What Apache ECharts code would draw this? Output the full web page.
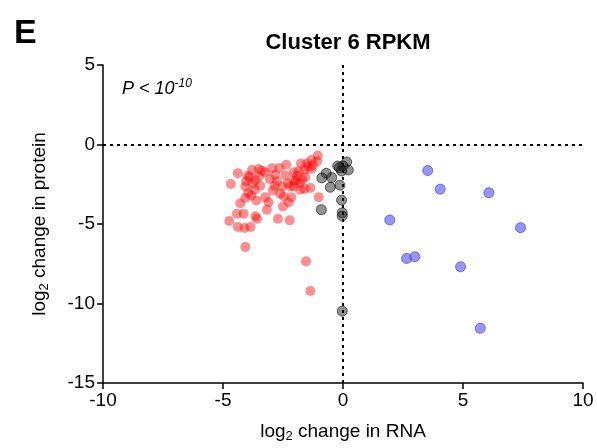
<!DOCTYPE html>
<html>
<head>
<meta charset="utf-8">
<script src="https://cdn.jsdelivr.net/npm/echarts@6/dist/echarts.min.js"></script>
<style>html,body{margin:0;padding:0;background:#fff}#c{width:597px;height:448px}</style>
</head>
<body>
<div id="c"></div>
<script>
// log2 change in RNA (x) / protein (y)
var redRNA = [-1.05,-1.08,-1.32,-1.50,-1.75,-1.32,-1.60,-1.85,-1.92,-1.57,-1.96,-1.80,-1.60,-1.36,-1.78,-2.05,-2.20,-1.01,-2.05,-2.36,-2.65,-2.96,-2.82,-3.05,-2.75,-2.54,-2.92,-2.61,-2.47,-2.15,-2.26,-2.50,-3.24,-3.10,-3.17,-3.38,-3.51,-3.79,-3.96,-3.65,-4.04,-4.07,-3.68,-3.82,-3.61,-4.07,-4.28,-4.38,-4.67,-4.42,-4.14,-3.65,-3.58,-4.74,-4.38,-4.10,-3.85,-2.71,-2.22,-4.07,-1.54,-1.36,-2.05,-3.90,-3.75,-3.50,-3.45,-2.30,-1.70,-2.85,-3.25,-1.45,-3.95,-2.40,-1.25];
var redProtein = [-0.69,-1.06,-0.98,-1.19,-1.19,-1.54,-1.60,-1.69,-1.96,-2.06,-2.27,-2.44,-2.79,-2.73,-2.85,-2.64,-2.64,-3.31,-2.27,-1.27,-1.48,-1.50,-1.90,-2.17,-2.31,-2.64,-2.90,-3.10,-3.27,-3.31,-3.63,-3.90,-3.31,-3.63,-4.10,-1.65,-1.54,-1.60,-1.96,-2.23,-2.31,-2.64,-2.85,-3.21,-3.52,-3.36,-3.69,-1.81,-2.48,-4.35,-4.35,-4.52,-4.67,-4.81,-5.19,-5.25,-5.19,-4.67,-4.77,-6.44,-7.35,-9.21,-1.75,-2.05,-2.45,-2.00,-2.60,-2.45,-2.20,-2.60,-1.75,-1.40,-3.05,-1.95,-1.30];
var grayRNA = [0.15,0.00,-0.15,0.22,-0.22,-0.06,-0.70,-0.88,-0.47,-0.53,-0.13,-0.06,-0.90,-0.03,-0.03,-0.03];
var grayProtein = [-1.10,-1.35,-1.46,-1.60,-1.35,-1.67,-1.81,-2.10,-2.08,-2.69,-2.56,-3.50,-4.10,-4.30,-4.50,-10.48];
var blueRNA = [3.53,4.05,6.08,1.95,7.40,2.65,2.99,4.90,5.72];
var blueProtein = [-1.64,-2.81,-3.04,-4.75,-5.23,-7.17,-7.06,-7.69,-11.56];
var xTicks = {min:-10, max:10, interval:5};
var yTicks = {min:-15, max:5, interval:5};

function pairs(a,b){return a.map(function(v,i){return [v,b[i]];});}
var font = 'Liberation Sans, Arial, sans-serif';
var chart = echarts.init(document.getElementById('c'), null, {renderer:'canvas'});
var rich = {
  a:{fontSize:19, fontFamily:font, color:'#000'},
  s:{fontSize:13, fontFamily:font, color:'#000', padding:[9,0,0,0]}
};
chart.setOption({
  animation:false,
  backgroundColor:'#fff',
  grid:{left:103,right:14,top:65,bottom:63},
  title:{text:'Cluster 6 RPKM', left:343, textAlign:'center', top:27,
    textStyle:{fontSize:22, fontWeight:'bold', fontFamily:font, color:'#000'}},
  graphic:[
    {type:'text', left:14, top:17, style:{text:'E', font:'bold 34px '+font, fill:'#000'}},
    {type:'text', left:122, top:78, style:{
      text:'{p|P < 10}{e|-10}', rich:{
        p:{fontSize:18, fontStyle:'italic', fontFamily:font, fill:'#000', color:'#000'},
        e:{fontSize:12, fontStyle:'italic', fontFamily:font, fill:'#000', color:'#000', padding:[0,0,10,0]}
      }}}
  ],
  xAxis:{type:'value', min:xTicks.min, max:xTicks.max, interval:xTicks.interval,
    name:'{a|log}{s|2}{a| change in RNA}', nameLocation:'middle', nameGap:38,
    nameTextStyle:{rich:rich},
    axisLine:{onZero:false, lineStyle:{color:'#000', width:1.5}},
    axisTick:{length:6, lineStyle:{color:'#000', width:1.5}},
    axisLabel:{fontSize:19, fontFamily:font, color:'#000', margin:8},
    splitLine:{show:false}},
  yAxis:{type:'value', min:yTicks.min, max:yTicks.max, interval:yTicks.interval,
    name:'{a|log}{s|2}{a| change in protein}', nameLocation:'middle', nameGap:52,
    nameTextStyle:{rich:rich},
    axisLine:{show:true, onZero:false, lineStyle:{color:'#000', width:1.5}},
    axisTick:{show:true, length:6, lineStyle:{color:'#000', width:1.5}},
    axisLabel:{fontSize:19, fontFamily:font, color:'#000', margin:8},
    splitLine:{show:false}},
  series:[
    {type:'scatter', data:[], silent:true,
     markLine:{silent:true, symbol:['none','none'], label:{show:false},
       lineStyle:{color:'#000', width:2, type:[3,4]},
       data:[{xAxis:0},{yAxis:0}]}},
    {type:'scatter', data:pairs(redRNA, redProtein), symbolSize:10,
     itemStyle:{color:'rgba(255,0,0,0.55)', borderWidth:0}},
    {type:'scatter', data:pairs(grayRNA, grayProtein), symbolSize:10,
     itemStyle:{color:'rgba(30,30,30,0.6)', borderColor:'rgba(0,0,0,0.7)', borderWidth:1}},
    {type:'scatter', data:pairs(blueRNA, blueProtein), symbolSize:10,
     itemStyle:{color:'rgba(90,90,255,0.8)', borderColor:'rgba(70,70,255,0.9)', borderWidth:1}}
  ]
});
</script>
</body>
</html>
